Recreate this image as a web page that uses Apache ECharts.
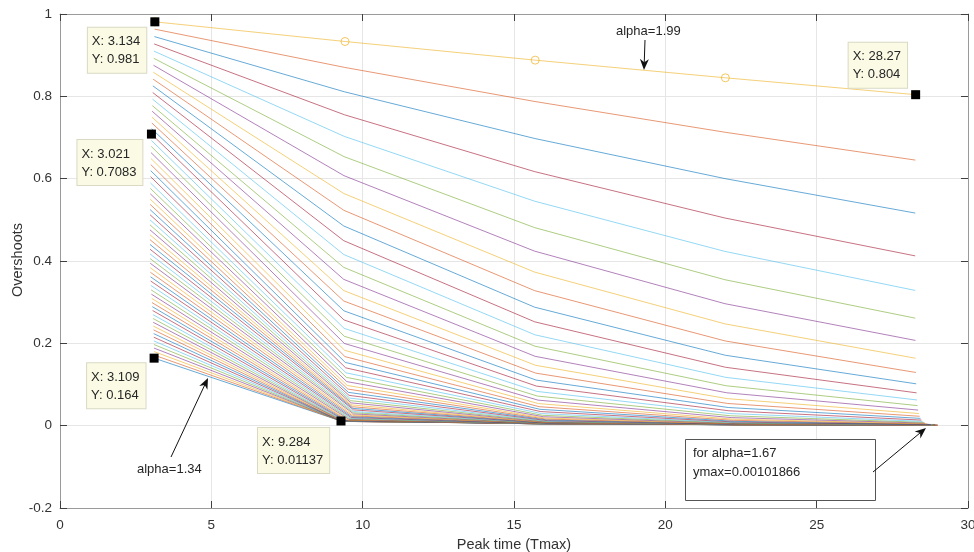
<!DOCTYPE html>
<html><head><meta charset="utf-8">
<script src="https://cdn.jsdelivr.net/npm/echarts@6/dist/echarts.min.js"></script>
<style>html,body{margin:0;padding:0;background:#fff}#c{width:974px;height:552px}</style>
</head><body><div id="c"></div>
<script>
// fractional order alpha of each curve (plotted in this order)
const alphas = [1.34,1.35,1.36,1.37,1.38,1.39,1.40,1.41,1.42,1.43,
 1.44,1.45,1.46,1.47,1.48,1.49,1.50,1.51,1.52,1.53,
 1.54,1.55,1.56,1.57,1.58,1.59,1.60,1.61,1.62,1.63,
 1.64,1.65,1.66,1.67,1.68,1.69,1.70,1.71,1.72,1.73,
 1.74,1.75,1.76,1.77,1.78,1.79,1.80,1.81,1.82,1.83,
 1.84,1.85,1.86,1.87,1.88,1.89,1.90,1.91,1.92,1.93,
 1.94,1.95,1.96,1.97,1.98,1.99];

// 1st overshoot peak
const peak1X = [3.109,3.109,3.108,3.107,3.105,3.100,3.100,3.095,3.090,3.085,
 3.080,3.075,3.070,3.060,3.050,3.040,3.030,3.020,3.010,3.000,
 2.995,2.991,2.987,2.983,2.980,2.977,2.975,2.974,2.973,2.972,
 2.972,2.972,2.972,2.973,2.975,2.976,2.978,2.980,2.983,2.986,
 2.989,2.992,2.996,3.000,3.004,3.008,3.013,3.018,3.021,3.028,
 3.033,3.039,3.045,3.051,3.057,3.063,3.069,3.076,3.083,3.090,
 3.097,3.104,3.111,3.119,3.126,3.134];
const peak1Y = [0.164,0.1714,0.1799,0.1885,0.1971,0.2059,0.2148,0.2236,0.2327,0.2418,
 0.2510,0.2603,0.2697,0.2797,0.2890,0.2990,0.3092,0.3194,0.3299,0.3407,
 0.3514,0.3616,0.3725,0.3835,0.3946,0.4058,0.4171,0.4286,0.4402,0.4519,
 0.4637,0.4757,0.4878,0.5000,0.5124,0.5249,0.5375,0.5503,0.5632,0.5763,
 0.5895,0.6049,0.6195,0.6342,0.6491,0.6632,0.6784,0.6929,0.7083,0.7213,
 0.7353,0.7494,0.7638,0.7774,0.7932,0.8092,0.8254,0.8418,0.8585,0.8754,
 0.8924,0.9098,0.9273,0.9451,0.9632,0.981];

// 2nd overshoot peak
const peak2X = [9.284,9.285,9.287,9.290,9.295,9.300,9.310,9.320,9.330,9.350,
 9.360,9.380,9.400,9.430,9.460,9.490,9.520,9.550,9.580,9.600,
 9.620,9.640,9.660,9.680,9.700,9.700,9.700,9.700,9.680,9.660,
 9.640,9.620,9.595,9.570,9.550,9.529,9.511,9.493,9.477,9.463,
 9.449,9.437,9.426,9.416,9.407,9.400,9.393,9.387,9.382,9.379,
 9.376,9.373,9.372,9.371,9.372,9.373,9.374,9.377,9.379,9.383,
 9.387,9.392,9.398,9.404,9.410,9.417];
const peak2Y = [0.01137,0.0115,0.0112,0.0110,0.0108,0.0106,0.0104,0.0104,0.0103,0.0104,
 0.0105,0.0107,0.0111,0.0117,0.0123,0.0132,0.0141,0.0153,0.0166,0.0181,
 0.0198,0.0216,0.0237,0.0261,0.0286,0.0314,0.0344,0.0383,0.0420,0.0460,
 0.0504,0.0554,0.0608,0.0670,0.0736,0.0809,0.0889,0.0976,0.1070,0.1173,
 0.1284,0.1405,0.1536,0.1677,0.1830,0.1995,0.2172,0.2364,0.2569,0.2790,
 0.3028,0.3282,0.3555,0.3847,0.4159,0.4494,0.4851,0.5232,0.5639,0.6073,
 0.6535,0.7027,0.7552,0.8109,0.8702,0.9332];

// 3rd overshoot peak
const peak3X = [15.40,15.40,15.40,15.40,15.40,15.40,15.40,15.45,15.45,15.50,
 15.50,15.55,15.60,15.60,15.65,15.68,15.70,15.70,15.75,15.80,
 15.85,15.90,15.95,16.00,16.00,16.00,16.10,16.10,16.10,16.10,
 16.10,16.10,16.10,16.10,16.10,16.083,16.043,16.006,15.972,15.939,
 15.910,15.882,15.856,15.833,15.811,15.791,15.773,15.757,15.742,15.729,
 15.718,15.708,15.699,15.692,15.687,15.682,15.679,15.677,15.676,15.676,
 15.678,15.680,15.684,15.689,15.694,15.700];
const peak3Y = [0.0067,0.0066,0.0065,0.0063,0.0062,0.0061,0.0060,0.0058,0.0057,0.0056,
 0.0054,0.0052,0.0050,0.0049,0.0047,0.0046,0.0045,0.0042,0.0041,0.0041,
 0.0045,0.0049,0.0050,0.0050,0.0052,0.0054,0.0056,0.0060,0.0064,0.0070,
 0.0077,0.0085,0.0095,0.0107,0.0122,0.0139,0.0161,0.0187,0.0217,0.0252,
 0.0294,0.0342,0.0397,0.0461,0.0536,0.0621,0.0719,0.0832,0.0961,0.1108,
 0.1276,0.1467,0.1684,0.1930,0.2208,0.2523,0.2879,0.3281,0.3732,0.4241,
 0.4812,0.5453,0.6171,0.6975,0.7874,0.8879];

// 4th overshoot peak
const peak4X = [21.70,21.70,21.70,21.70,21.70,21.70,21.70,21.75,21.80,21.85,
 21.90,21.95,22.00,22.05,22.10,22.15,22.20,22.20,22.25,22.30,
 22.35,22.40,22.45,22.50,22.50,22.50,22.60,22.60,22.60,22.60,
 22.60,22.60,22.60,22.60,22.60,22.60,22.575,22.519,22.466,22.416,
 22.370,22.327,22.286,22.249,22.214,22.182,22.153,22.126,22.102,22.080,
 22.060,22.042,22.027,22.013,22.001,21.992,21.984,21.977,21.973,21.970,
 21.969,21.969,21.970,21.974,21.978,21.983];
const peak4Y = [0.0043,0.0042,0.0041,0.0040,0.0039,0.0039,0.0038,0.0037,0.0036,0.0035,
 0.0034,0.0033,0.0032,0.0031,0.0030,0.0029,0.0028,0.0026,0.0025,0.0024,
 0.0023,0.0023,0.0023,0.0022,0.0021,0.0021,0.0021,0.0020,0.0020,0.0021,
 0.0021,0.0022,0.0023,0.0025,0.0028,0.0031,0.0035,0.0041,0.0049,0.0059,
 0.0071,0.0087,0.0106,0.0130,0.0159,0.0196,0.0240,0.0295,0.0361,0.0441,
 0.0539,0.0657,0.0799,0.0969,0.1173,0.1418,0.1710,0.2058,0.2472,0.2963,
 0.3545,0.4233,0.5044,0.6001,0.7127,0.8450];

// 5th overshoot peak
const peak5X = [28.9,28.9,28.9,28.9,28.9,28.9,28.9,28.9,28.9,28.9,
 28.9,28.9,28.9,28.9,28.9,28.9,28.9,28.9,28.9,28.9,
 28.9,28.9,28.9,28.9,28.9,28.9,28.9,28.9,28.9,28.9,
 28.9,28.9,28.9,28.9,29.0,29.0,29.0,29.0,28.960,28.893,
 28.830,28.771,28.716,28.665,28.618,28.574,28.533,28.496,28.462,28.431,
 28.402,28.377,28.354,28.334,28.316,28.301,28.288,28.278,28.269,28.263,
 28.259,28.257,28.257,28.259,28.262,28.27];
const peak5Y = [0.0029,0.0028,0.0028,0.0027,0.0026,0.0026,0.0025,0.0025,0.0024,0.0023,
 0.0023,0.0022,0.0022,0.0021,0.0020,0.0020,0.0019,0.0018,0.0017,0.0016,
 0.0016,0.0015,0.0015,0.0014,0.0014,0.0013,0.0013,0.0012,0.0012,0.0011,
 0.0011,0.0011,0.0011,0.00101866,0.0011,0.0011,0.0012,0.0013,0.0014,0.0017,
 0.0020,0.0024,0.0030,0.0038,0.0049,0.0063,0.0081,0.0105,0.0136,0.0177,
 0.0228,0.0295,0.0379,0.0487,0.0624,0.0797,0.1016,0.1292,0.1638,0.2071,
 0.2611,0.3285,0.4124,0.5164,0.6451,0.804];

// data tips
const tipX = [3.134, 3.021, 3.109, 9.284, 28.27];
const tipY = [0.981, 0.7083, 0.164, 0.01137, 0.804];

const palette = ['#0072BD','#D95319','#EDB120','#7E2F8E','#77AC30','#4DBEEE','#A2142F'];
const FONT = '"Liberation Sans", Arial, Helvetica, sans-serif';

const chart = echarts.init(document.getElementById('c'), null, {renderer:'canvas'});

const series = alphas.map((a, i) => {
  const col = palette[i % palette.length];
  const last = i === alphas.length - 1;
  return {
    type: 'line', name: 'alpha=' + a, xAxisIndex: 0, yAxisIndex: 0,
    data: [[peak1X[i],peak1Y[i]],[peak2X[i],peak2Y[i]],[peak3X[i],peak3Y[i]],[peak4X[i],peak4Y[i]],[peak5X[i],peak5Y[i]]],
    showSymbol: last, symbol: 'circle', symbolSize: 8,
    itemStyle: last ? {color: 'rgba(255,255,255,0)', borderColor: col, borderWidth: 1, opacity: 0.7} : {color: col},
    lineStyle: {color: col, width: 1, opacity: 0.6},
    silent: true, animation: false, z: 2
  };
});
series.push({
  type: 'scatter', data: tipX.map((x, i) => [x, tipY[i]]),
  symbol: 'rect', symbolSize: 9, itemStyle: {color: '#000', opacity: 1}, z: 10, silent: true, animation: false
});

const axisLineStyle = {color: '#9a9a9a', width: 1};
const tickStyle = {color: '#404040', width: 1};
chart.setOption({
  animation: false,
  grid: {left: 60, right: 6, top: 14, bottom: 44, containLabel: false, outerBoundsMode: 'none'},
  xAxis: [
    {type: 'value', min: 0, max: 30, interval: 5, position: 'bottom',
     axisLine: {show: true, onZero: false, lineStyle: axisLineStyle},
     axisTick: {show: true, inside: true, length: 7, lineStyle: tickStyle},
     axisLabel: {color: '#333', fontSize: 13.5, fontFamily: FONT, margin: 10,
       alignMinLabel: 'center', alignMaxLabel: 'center', hideOverlap: false},
     splitLine: {show: true, lineStyle: {color: '#e6e6e6', width: 1}},
     name: 'Peak time (Tmax)', nameLocation: 'middle', nameGap: 29,
     nameTextStyle: {color: '#333', fontSize: 14.5, fontFamily: FONT}},
    {type: 'value', min: 0, max: 30, interval: 5, position: 'top',
     axisLine: {show: true, onZero: false, lineStyle: axisLineStyle},
     axisTick: {show: true, inside: true, length: 7, lineStyle: tickStyle},
     axisLabel: {show: false}, splitLine: {show: false}}
  ],
  yAxis: [
    {type: 'value', min: -0.2, max: 1, interval: 0.2, position: 'left',
     axisLine: {show: true, onZero: false, lineStyle: axisLineStyle},
     axisTick: {show: true, inside: true, length: 7, lineStyle: tickStyle},
     axisLabel: {color: '#333', fontSize: 13.5, fontFamily: FONT, margin: 8,
       verticalAlignMinLabel: 'middle', verticalAlignMaxLabel: 'middle',
       formatter: v => String(Math.round(v * 10) / 10)},
     splitLine: {show: true, lineStyle: {color: '#e6e6e6', width: 1}}},
    {type: 'value', min: -0.2, max: 1, interval: 0.2, position: 'right',
     axisLine: {show: true, onZero: false, lineStyle: axisLineStyle},
     axisTick: {show: true, inside: true, length: 7, lineStyle: tickStyle},
     axisLabel: {show: false}, splitLine: {show: false}}
  ],
  series: series
});

// ---- annotations ----
function arrow(x1, y1, x2, y2) {
  const ang = Math.atan2(y2 - y1, x2 - x1);
  const L = 11, W = 4.5;
  const bx = x2 - L * Math.cos(ang), by = y2 - L * Math.sin(ang);
  const px = -Math.sin(ang), py = Math.cos(ang);
  const mx = x2 - 0.7 * L * Math.cos(ang), my = y2 - 0.7 * L * Math.sin(ang);
  return [
    {type: 'line', shape: {x1: x1, y1: y1, x2: mx, y2: my}, style: {stroke: '#111', lineWidth: 1}, z: 20},
    {type: 'polygon', shape: {points: [[x2, y2], [bx + W * px, by + W * py], [mx, my], [bx - W * px, by - W * py]]},
     style: {fill: '#111'}, z: 20}
  ];
}
function label(text, x, y) {
  return {type: 'text', x: x, y: y, z: 20,
    style: {text: text, font: '13px ' + FONT, fill: '#262626', align: 'left', verticalAlign: 'middle'}};
}

const tipOffsets = [[-67, 6], [-74, 6], [-67, 5], [-83, 7], [-67, -52]];
const graphics = [];
tipX.forEach((x, i) => {
  const p = chart.convertToPixel({gridIndex: 0}, [x, tipY[i]]);
  graphics.push({
    type: 'text', x: p[0] + tipOffsets[i][0], y: p[1] + tipOffsets[i][1], z: 15,
    style: {text: 'X: ' + x + '\nY: ' + tipY[i], font: '13px ' + FONT, fill: '#262626',
      align: 'left', verticalAlign: 'top', lineHeight: 18,
      backgroundColor: '#fbfbe5', borderColor: '#d9d9c4', borderWidth: 1, padding: [5, 6, 4, 4]}
  });
});

// y-axis title
graphics.push({type: 'text', x: 18, y: 260, rotation: Math.PI / 2, z: 20,
  style: {text: 'Overshoots', font: '14.5px ' + FONT, fill: '#333', align: 'center', verticalAlign: 'middle'}});

graphics.push(label('alpha=1.99', 616, 31));
graphics.push(...arrow(645, 40, 644, 70));
graphics.push(label('alpha=1.34', 137, 469));
graphics.push(...arrow(171, 457, 208, 378));
graphics.push({type: 'rect', shape: {x: 685.5, y: 439.5, width: 190, height: 61},
  style: {fill: '#fff', stroke: '#555', lineWidth: 1}, z: 18});
graphics.push(label('for alpha=1.67', 693, 453));
graphics.push(label('ymax=0.00101866', 693, 472));
graphics.push(...arrow(873, 472, 926, 428));

chart.setOption({graphic: {elements: graphics}});
</script>
</body></html>
